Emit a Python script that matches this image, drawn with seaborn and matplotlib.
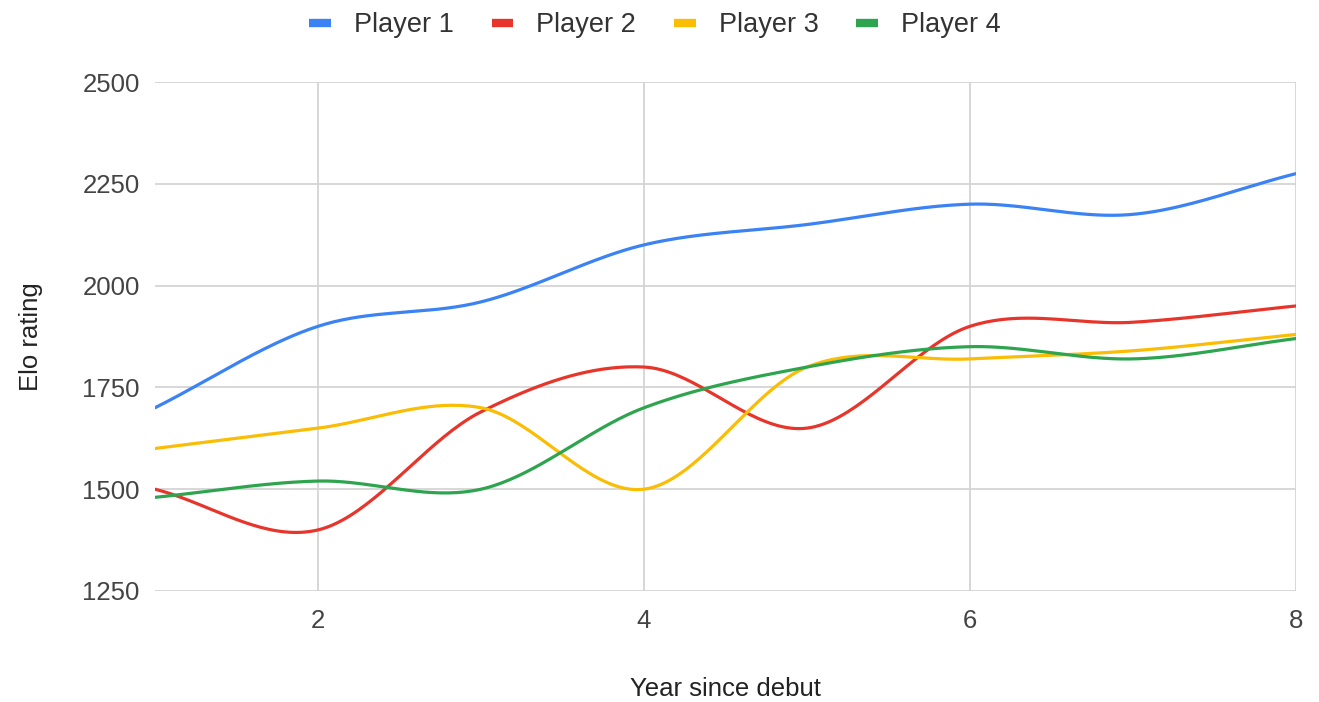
import numpy as np
import pandas as pd
import matplotlib
matplotlib.use("Agg")
import matplotlib.pyplot as plt
import seaborn as sns

# Elo ratings per year since debut
years = [1, 2, 3, 4, 5, 6, 7, 8]
player_1 = [1700, 1900, 1960, 2100, 2150, 2200, 2175, 2275]
player_2 = [1500, 1400, 1690, 1800, 1650, 1900, 1910, 1950]
player_3 = [1600, 1650, 1700, 1500, 1800, 1820, 1840, 1880]
player_4 = [1480, 1520, 1500, 1700, 1800, 1850, 1820, 1870]

series_names = ["Player 1", "Player 2", "Player 3", "Player 4"]
series_values = [player_1, player_2, player_3, player_4]
colors = ["#3b82f4", "#e8352b", "#fbbc04", "#2ea44f"]

x_ticks = [2, 4, 6, 8]
y_ticks = [1250, 1500, 1750, 2000, 2250, 2500]


def smooth_curve(xs, ys, steps=40):
    """Cubic Hermite (Catmull-Rom) curve passing through every data point."""
    xs = np.asarray(xs, dtype=float)
    ys = np.asarray(ys, dtype=float)
    n = len(xs)
    m = np.empty(n)
    m[1:-1] = (ys[2:] - ys[:-2]) / (xs[2:] - xs[:-2])
    m[0] = (ys[1] - ys[0]) / (xs[1] - xs[0])
    m[-1] = (ys[-1] - ys[-2]) / (xs[-1] - xs[-2])
    out_x, out_y = [], []
    for i in range(n - 1):
        h = xs[i + 1] - xs[i]
        t = np.linspace(0, 1, steps, endpoint=(i == n - 2))
        h00 = 2 * t**3 - 3 * t**2 + 1
        h10 = t**3 - 2 * t**2 + t
        h01 = -2 * t**3 + 3 * t**2
        h11 = t**3 - t**2
        out_x.append(xs[i] + t * h)
        out_y.append(h00 * ys[i] + h10 * h * m[i] + h01 * ys[i + 1] + h11 * h * m[i + 1])
    return np.concatenate(out_x), np.concatenate(out_y)


frames = []
for name, vals in zip(series_names, series_values):
    cx, cy = smooth_curve(years, vals)
    frames.append(pd.DataFrame({"year": cx, "elo": cy, "player": name}))
df = pd.concat(frames, ignore_index=True)

sns.set_theme(style="white")
plt.rcParams["font.family"] = ["Liberation Sans", "DejaVu Sans"]

fig = plt.figure(figsize=(13.19, 7.02), dpi=100)
ax = fig.add_axes([155 / 1319, 1 - 591 / 702, (1296 - 155) / 1319, (591 - 82) / 702])

sns.lineplot(data=df, x="year", y="elo", hue="player", palette=colors,
             hue_order=series_names, sort=False, estimator=None,
             linewidth=2.3, ax=ax, legend=False, zorder=3)

ax.set_xlim(1, 8)
ax.set_ylim(1250, 2500)
ax.set_xticks(x_ticks)
ax.set_yticks(y_ticks)
ax.set_xticklabels([str(v) for v in x_ticks])
ax.set_yticklabels([str(v) for v in y_ticks])
ax.grid(True, color="#d4d4d4", linewidth=1.3, zorder=0)
ax.set_axisbelow(True)
for s in ax.spines.values():
    s.set_visible(False)
ax.tick_params(axis="both", length=0, labelsize=18.5, labelcolor="#444444")
ax.tick_params(axis="x", pad=13)
ax.tick_params(axis="y", pad=11)

ax.set_xlabel("Year since debut", fontsize=18.5, color="#222222", labelpad=32)
ax.set_ylabel("Elo rating", fontsize=18.5, color="#222222", labelpad=28)

handles = [plt.Line2D([], [], color=c, linewidth=6, solid_capstyle="butt")
           for c in colors]
fig.legend(handles, series_names, loc="center", bbox_to_anchor=(655 / 1319, 1 - 25 / 702),
           ncol=4, frameon=False, fontsize=19.5, handlelength=0.8, handletextpad=0.85,
           columnspacing=1.4, labelcolor="#333333")

fig.savefig("out.png", dpi=100, facecolor="white")
